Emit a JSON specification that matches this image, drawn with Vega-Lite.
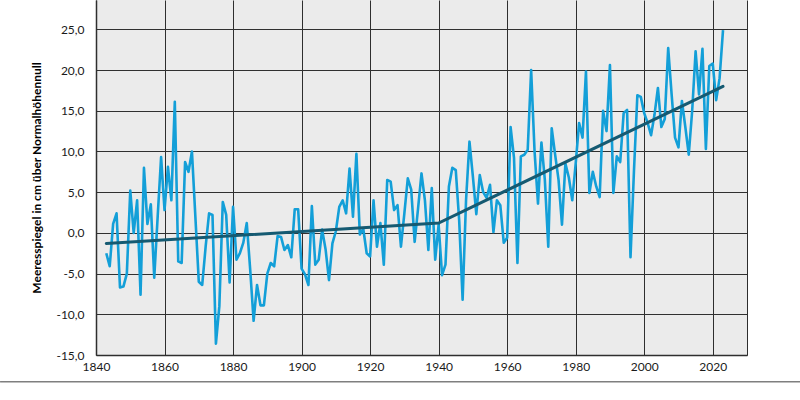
{
  "$schema": "https://vega.github.io/schema/vega-lite/v6.json",
  "width": 651,
  "height": 355,
  "autosize": {"type": "none"},
  "padding": {"left": 96, "top": 0, "right": 53, "bottom": 45},
  "background": "white",
  "config": {
    "view": {"stroke": null, "fill": "#ebebeb"},
    "font": "Lato"
  },
  "datasets": {
    "pegel": [
      {"jahr": 1843, "wert": -2.5}, {"jahr": 1844, "wert": -4.1}, {"jahr": 1845, "wert": 1.1}, {"jahr": 1846, "wert": 2.4},
      {"jahr": 1847, "wert": -6.7}, {"jahr": 1848, "wert": -6.6}, {"jahr": 1849, "wert": -5.0}, {"jahr": 1850, "wert": 5.2},
      {"jahr": 1851, "wert": 0.0}, {"jahr": 1852, "wert": 4.0}, {"jahr": 1853, "wert": -7.6}, {"jahr": 1854, "wert": 8.0},
      {"jahr": 1855, "wert": 1.1}, {"jahr": 1856, "wert": 3.5}, {"jahr": 1857, "wert": -5.5}, {"jahr": 1858, "wert": 2.0},
      {"jahr": 1859, "wert": 9.3}, {"jahr": 1860, "wert": 2.8}, {"jahr": 1861, "wert": 8.1}, {"jahr": 1862, "wert": 4.0},
      {"jahr": 1863, "wert": 16.1}, {"jahr": 1864, "wert": -3.5}, {"jahr": 1865, "wert": -3.7}, {"jahr": 1866, "wert": 8.7},
      {"jahr": 1867, "wert": 7.5}, {"jahr": 1868, "wert": 10.0}, {"jahr": 1869, "wert": 2.0}, {"jahr": 1870, "wert": -6.0},
      {"jahr": 1871, "wert": -6.4}, {"jahr": 1872, "wert": -1.7}, {"jahr": 1873, "wert": 2.4}, {"jahr": 1874, "wert": 2.2},
      {"jahr": 1875, "wert": -13.6}, {"jahr": 1876, "wert": -9.0}, {"jahr": 1877, "wert": 3.8}, {"jahr": 1878, "wert": 2.2},
      {"jahr": 1879, "wert": -6.1}, {"jahr": 1880, "wert": 3.2}, {"jahr": 1881, "wert": -3.3}, {"jahr": 1882, "wert": -2.5},
      {"jahr": 1883, "wert": -1.2}, {"jahr": 1884, "wert": 1.2}, {"jahr": 1885, "wert": -4.5}, {"jahr": 1886, "wert": -10.8},
      {"jahr": 1887, "wert": -6.4}, {"jahr": 1888, "wert": -8.9}, {"jahr": 1889, "wert": -8.9}, {"jahr": 1890, "wert": -5.0},
      {"jahr": 1891, "wert": -3.7}, {"jahr": 1892, "wert": -4.1}, {"jahr": 1893, "wert": -0.4}, {"jahr": 1894, "wert": -0.5},
      {"jahr": 1895, "wert": -2.1}, {"jahr": 1896, "wert": -1.5}, {"jahr": 1897, "wert": -3.0}, {"jahr": 1898, "wert": 2.9},
      {"jahr": 1899, "wert": 2.9}, {"jahr": 1900, "wert": -4.4}, {"jahr": 1901, "wert": -5.1}, {"jahr": 1902, "wert": -6.4},
      {"jahr": 1903, "wert": 3.3}, {"jahr": 1904, "wert": -3.9}, {"jahr": 1905, "wert": -3.3}, {"jahr": 1906, "wert": 0.4},
      {"jahr": 1907, "wert": -2.0}, {"jahr": 1908, "wert": -5.8}, {"jahr": 1909, "wert": -1.3}, {"jahr": 1910, "wert": 0.2},
      {"jahr": 1911, "wert": 3.2}, {"jahr": 1912, "wert": 4.0}, {"jahr": 1913, "wert": 2.4}, {"jahr": 1914, "wert": 7.9},
      {"jahr": 1915, "wert": 2.0}, {"jahr": 1916, "wert": 9.7}, {"jahr": 1917, "wert": -0.2}, {"jahr": 1918, "wert": 0.5},
      {"jahr": 1919, "wert": -2.5}, {"jahr": 1920, "wert": -2.9}, {"jahr": 1921, "wert": 4.0}, {"jahr": 1922, "wert": -1.7},
      {"jahr": 1923, "wert": 1.2}, {"jahr": 1924, "wert": -3.9}, {"jahr": 1925, "wert": 6.5}, {"jahr": 1926, "wert": 6.3},
      {"jahr": 1927, "wert": 2.8}, {"jahr": 1928, "wert": 3.4}, {"jahr": 1929, "wert": -1.7}, {"jahr": 1930, "wert": 2.4},
      {"jahr": 1931, "wert": 6.7}, {"jahr": 1932, "wert": 5.3}, {"jahr": 1933, "wert": -1.1}, {"jahr": 1934, "wert": 3.0},
      {"jahr": 1935, "wert": 7.3}, {"jahr": 1936, "wert": 4.0}, {"jahr": 1937, "wert": -2.1}, {"jahr": 1938, "wert": 5.5},
      {"jahr": 1939, "wert": -3.3}, {"jahr": 1940, "wert": 1.0}, {"jahr": 1941, "wert": -5.2}, {"jahr": 1942, "wert": -3.9},
      {"jahr": 1943, "wert": 5.7}, {"jahr": 1944, "wert": 8.0}, {"jahr": 1945, "wert": 7.7}, {"jahr": 1946, "wert": 1.5},
      {"jahr": 1947, "wert": -8.2}, {"jahr": 1948, "wert": 4.0}, {"jahr": 1949, "wert": 11.2}, {"jahr": 1950, "wert": 6.9},
      {"jahr": 1951, "wert": 2.3}, {"jahr": 1952, "wert": 7.1}, {"jahr": 1953, "wert": 5.0}, {"jahr": 1954, "wert": 4.3},
      {"jahr": 1955, "wert": 5.9}, {"jahr": 1956, "wert": 0.1}, {"jahr": 1957, "wert": 4.0}, {"jahr": 1958, "wert": 3.4},
      {"jahr": 1959, "wert": -1.2}, {"jahr": 1960, "wert": -0.6}, {"jahr": 1961, "wert": 13.0}, {"jahr": 1962, "wert": 9.2},
      {"jahr": 1963, "wert": -3.7}, {"jahr": 1964, "wert": 9.4}, {"jahr": 1965, "wert": 9.6}, {"jahr": 1966, "wert": 10.2},
      {"jahr": 1967, "wert": 20.0}, {"jahr": 1968, "wert": 10.0}, {"jahr": 1969, "wert": 3.6}, {"jahr": 1970, "wert": 11.1},
      {"jahr": 1971, "wert": 6.5}, {"jahr": 1972, "wert": -1.7}, {"jahr": 1973, "wert": 12.85}, {"jahr": 1974, "wert": 9.6},
      {"jahr": 1975, "wert": 6.5}, {"jahr": 1976, "wert": 1.0}, {"jahr": 1977, "wert": 8.5}, {"jahr": 1978, "wert": 6.8},
      {"jahr": 1979, "wert": 4.0}, {"jahr": 1980, "wert": 8.5}, {"jahr": 1981, "wert": 13.5}, {"jahr": 1982, "wert": 11.7},
      {"jahr": 1983, "wert": 19.8}, {"jahr": 1984, "wert": 4.9}, {"jahr": 1985, "wert": 7.5}, {"jahr": 1986, "wert": 5.7},
      {"jahr": 1987, "wert": 4.4}, {"jahr": 1988, "wert": 15.0}, {"jahr": 1989, "wert": 12.5}, {"jahr": 1990, "wert": 20.6},
      {"jahr": 1991, "wert": 4.9}, {"jahr": 1992, "wert": 9.4}, {"jahr": 1993, "wert": 8.7}, {"jahr": 1994, "wert": 14.7},
      {"jahr": 1995, "wert": 15.1}, {"jahr": 1996, "wert": -3.0}, {"jahr": 1997, "wert": 7.5}, {"jahr": 1998, "wert": 16.9},
      {"jahr": 1999, "wert": 16.7}, {"jahr": 2000, "wert": 14.7}, {"jahr": 2001, "wert": 13.5}, {"jahr": 2002, "wert": 12.0},
      {"jahr": 2003, "wert": 14.5}, {"jahr": 2004, "wert": 17.8}, {"jahr": 2005, "wert": 13.0}, {"jahr": 2006, "wert": 14.0},
      {"jahr": 2007, "wert": 22.7}, {"jahr": 2008, "wert": 17.0}, {"jahr": 2009, "wert": 11.7}, {"jahr": 2010, "wert": 10.5},
      {"jahr": 2011, "wert": 16.2}, {"jahr": 2012, "wert": 13.0}, {"jahr": 2013, "wert": 9.6}, {"jahr": 2014, "wert": 15.0},
      {"jahr": 2015, "wert": 22.3}, {"jahr": 2016, "wert": 17.0}, {"jahr": 2017, "wert": 22.6}, {"jahr": 2018, "wert": 10.3},
      {"jahr": 2019, "wert": 20.5}, {"jahr": 2020, "wert": 20.8}, {"jahr": 2021, "wert": 16.3}, {"jahr": 2022, "wert": 19.0},
      {"jahr": 2023, "wert": 24.9}
    ],
    "trend": [
      {"jahr": 1843, "wert": -1.3},
      {"jahr": 1940, "wert": 1.2},
      {"jahr": 2023, "wert": 18.0}
    ]
  },
  "layer": [
    {
      "data": {"name": "pegel"},
      "mark": {"type": "line", "color": "#139fd8", "strokeWidth": 2.6, "strokeJoin": "round", "clip": true},
      "encoding": {
        "x": {
          "field": "jahr",
          "type": "quantitative",
          "scale": {"domain": [1840, 2030], "nice": false, "zero": false},
          "axis": {
            "title": null,
            "zindex": 0,
            "values": [1840, 1860, 1880, 1900, 1920, 1940, 1960, 1980, 2000, 2020, 2030],
            "labelExpr": "datum.value == 2030 ? '' : format(datum.value, 'd')",
            "labelFlush": false,
            "labelFont": "Lato",
            "labelFontSize": 12,
            "labelColor": "#1a1a1a",
            "labelPadding": 6,
            "ticks": false,
            "grid": true,
            "gridColor": "#2e2e2e",
            "gridWidth": 1,
            "gridOpacity": 1,
            "domainColor": "#2e2e2e",
            "domainWidth": 1.5
          }
        },
        "y": {
          "field": "wert",
          "type": "quantitative",
          "scale": {"domain": [-15, 28.6], "nice": false, "zero": false},
          "axis": {
            "title": "Meeresspiegel in cm über Normalhöhennull",
            "zindex": 0,
            "titleFont": "Lato",
            "titleFontSize": 12,
            "titleFontWeight": "bold",
            "titleColor": "#000000",
            "titlePadding": 12,
            "values": [-15, -10, -5, 0, 5, 10, 15, 20, 25],
            "labelExpr": "(datum.value < 0 ? '-' : '') + replace(format(abs(datum.value), '.1f'), '.', ',')",
            "labelFlush": false,
            "labelFont": "Lato",
            "labelFontSize": 12,
            "labelColor": "#1a1a1a",
            "labelPadding": 12,
            "ticks": false,
            "grid": true,
            "gridColor": "#303030",
            "gridWidth": 1,
            "gridOpacity": 1,
            "domainColor": "#2e2e2e",
            "domainWidth": 1.5
          }
        }
      }
    },
    {
      "data": {"name": "trend"},
      "mark": {"type": "line", "color": "#155a72", "strokeWidth": 3, "strokeCap": "round"},
      "encoding": {
        "x": {"field": "jahr", "type": "quantitative"},
        "y": {"field": "wert", "type": "quantitative"}
      }
    },
    {
      "data": {"values": [{}]},
      "mark": {"type": "rule", "color": "#7f7f7f", "strokeWidth": 1.5, "clip": false},
      "encoding": {
        "x": {"datum": 1812},
        "x2": {"datum": 2045.5},
        "y": {"datum": -18.3}
      }
    }
  ]
}
